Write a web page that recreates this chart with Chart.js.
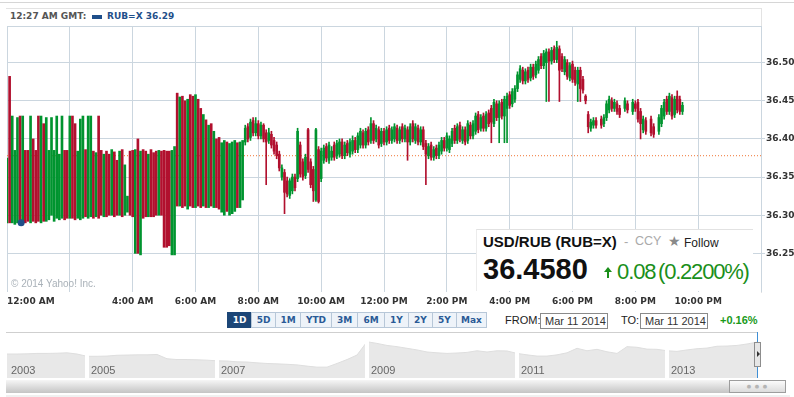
<!DOCTYPE html>
<html>
<head>
<meta charset="utf-8">
<script src="https://cdn.jsdelivr.net/npm/chart.js@4.4.1/dist/chart.umd.min.js"></script>
<style>
body { margin:0; background:#fff; width:794px; height:397px; overflow:hidden; position:relative; font-family:"DejaVu Sans", sans-serif; }
.a { position:absolute; white-space:nowrap; }
#main { position:absolute; left:0; top:0; z-index:1; }
#overview { position:absolute; left:7px; top:336px; z-index:1; }
.btn { position:absolute; top:312px; height:16px; box-sizing:border-box; border:1px solid #b7c7d8; background:#eef3f9; color:#2a5a96; font:bold 9px "DejaVu Sans"; line-height:14px; text-align:center; }
.arial { font-family:"Liberation Sans", Arial, sans-serif; }
</style>
</head>
<body>
<div class="a" style="left:0;top:2px;width:794px;height:1px;background:#d6d6d6"></div>
<div class="a" style="left:6px;top:8px;width:756px;height:285px;box-sizing:border-box;border-top:1px solid #e3e3e3;border-right:1px solid #e3e3e3"></div>
<div class="a" style="left:7px;top:26px;width:754px;height:1px;background:#cbd6df"></div>
<div class="a" style="left:10px;top:11px;font:bold 9px 'DejaVu Sans';color:#555">12:27 AM GMT:</div>
<div class="a" style="left:92px;top:15px;width:10px;height:4px;background:#1f4f8a"></div>
<div class="a" style="left:107px;top:11px;font:bold 9px 'DejaVu Sans';color:#1f4f8a">RUB=X 36.29</div>

<canvas id="main" width="794" height="310"></canvas>

<div class="a arial" style="left:11px;top:278px;font-size:10px;color:#a9b1b8;z-index:2">© 2014 Yahoo! Inc.</div>

<div class="a" style="left:476px;top:229px;width:276px;height:61px;background:#fff;border-top:1px solid #e2e2e2;border-left:1px solid #ececec;z-index:2">
  <div class="a arial" style="left:6px;top:4px;font-size:15px;font-weight:bold;color:#111;line-height:1">USD/RUB (RUB=X)</div>
  <div class="a arial" style="left:147px;top:5px;font-size:13px;color:#aaa;line-height:1">-</div>
  <div class="a arial" style="left:158px;top:5px;font-size:12.5px;color:#aaa;line-height:1">CCY</div>
  <div class="a" style="left:191px;top:4px;font-size:14px;color:#8a8a8a;line-height:1">★</div>
  <div class="a arial" style="left:207px;top:7px;font-size:12px;color:#222;line-height:1">Follow</div>
  <div class="a arial" style="left:6px;top:25px;font-size:29px;font-weight:bold;color:#111;line-height:1">36.4580</div>
  <div class="a" style="left:127px;top:37px;width:0;height:0;border-left:4px solid transparent;border-right:4px solid transparent;border-bottom:5px solid #1a8f1a"></div>
  <div class="a" style="left:130px;top:42px;width:2px;height:6px;background:#1a8f1a"></div>
  <div class="a arial" style="left:140px;top:31px;font-size:22px;letter-spacing:-1.1px;color:#1a8f1a;line-height:1">0.08</div>
  <div class="a arial" style="left:181px;top:31px;font-size:22px;letter-spacing:-1.2px;color:#1a8f1a;line-height:1">(0.2200%)</div>
</div>

<div class="btn" style="left:227px;width:25px;background:#1c4677;border-color:#1c4677;color:#fff">1D</div>
<div class="btn" style="left:251px;width:25px">5D</div>
<div class="btn" style="left:275px;width:26px">1M</div>
<div class="btn" style="left:300px;width:32px">YTD</div>
<div class="btn" style="left:331px;width:27px">3M</div>
<div class="btn" style="left:357px;width:28px">6M</div>
<div class="btn" style="left:384px;width:25px">1Y</div>
<div class="btn" style="left:408px;width:25px">2Y</div>
<div class="btn" style="left:432px;width:25px">5Y</div>
<div class="btn" style="left:456px;width:31px">Max</div>
<div class="a arial" style="left:505px;top:314px;font-size:11px;color:#222">FROM:</div>
<div class="a arial" style="left:540px;top:313px;width:68px;height:16px;box-sizing:border-box;border:1px solid #8a8a8a;font-size:11px;color:#333;padding-left:4px;line-height:14px">Mar 11 2014</div>
<div class="a arial" style="left:621px;top:314px;font-size:11px;color:#222">TO:</div>
<div class="a arial" style="left:640px;top:313px;width:68px;height:16px;box-sizing:border-box;border:1px solid #8a8a8a;font-size:11px;color:#333;padding-left:4px;line-height:14px">Mar 11 2014</div>
<div class="a arial" style="left:720px;top:314px;font-size:11px;font-weight:bold;color:#1a9a1a">+0.16%</div>

<div class="a" style="left:6px;top:332px;width:752px;height:1px;background:#cfcfcf"></div>
<canvas id="overview" width="750" height="42"></canvas>
<div class="a" style="left:757px;top:332px;width:1px;height:46px;background:#3d8fd6;z-index:2"></div>
<div class="a" style="left:754px;top:342px;width:7px;height:25px;box-sizing:border-box;border:1px solid #8d8d8d;background:#e6e6e6;z-index:3"></div>
<div class="a" style="left:757px;top:351px;width:0;height:0;border-top:3px solid transparent;border-bottom:3px solid transparent;border-left:3px solid #333;z-index:4"></div>
<div class="a" style="left:6px;top:380px;width:780px;height:13px;background:linear-gradient(#f6f6f6,#c4c4c4)"></div>
<div class="a" style="left:729px;top:380px;width:57px;height:13px;box-sizing:border-box;border:1px solid #9d9d9d;background:linear-gradient(#fbfbfb,#dcdcdc);font-size:5px;color:#b5b5b5;text-align:center;line-height:11px;letter-spacing:1px">● ● ●</div>
<div class="a" style="left:6px;top:395px;width:784px;height:2px;background:#f0f0f0"></div>

<script>
// 5 minute candles, 00:00 to 21:30 GMT, Mar 11 2014
const stepMinutes = 5;
const opens = [
  36.290,36.482,36.290,36.288,36.290,36.430,36.288,36.385,36.385,36.290,
  36.400,36.385,36.430,36.290,36.420,36.292,36.294,36.300,36.292,36.296,
  36.294,36.296,36.385,36.385,36.296,36.430,36.420,36.296,36.294,36.296,
  36.386,36.296,36.298,36.384,36.298,36.430,36.385,36.298,36.384,36.380,
  36.300,36.383,36.372,36.300,36.386,36.300,36.304,36.384,36.385,36.250,
  36.400,36.248,36.386,36.384,36.298,36.386,36.382,36.384,36.300,36.384,
  36.385,36.384,36.384,36.248,36.248,36.460,36.312,36.456,36.450,36.308,
  36.458,36.456,36.310,36.452,36.440,36.312,36.425,36.310,36.420,36.310,
  36.400,36.402,36.304,36.300,36.396,36.300,36.302,36.305,36.395,36.310,
  36.320,36.396,36.416,36.402,36.424,36.408,36.420,36.404,36.418,36.408,
  36.398,36.406,36.398,36.392,36.380,36.350,36.356,36.345,36.326,36.332,
  36.350,36.348,36.392,36.370,36.352,36.412,36.370,36.360,36.320,36.386,
  36.348,36.372,36.390,36.372,36.376,36.392,36.378,36.380,36.396,36.378,
  36.394,36.380,36.384,36.398,36.386,36.392,36.408,36.392,36.412,36.398,
  36.420,36.400,36.412,36.394,36.410,36.396,36.414,36.398,36.400,36.414,
  36.398,36.416,36.400,36.412,36.396,36.420,36.398,36.414,36.396,36.412,
  36.394,36.378,36.392,36.376,36.388,36.378,36.384,36.398,36.388,36.386,
  36.394,36.414,36.398,36.418,36.398,36.412,36.398,36.418,36.404,36.410,
  36.432,36.414,36.430,36.414,36.434,36.440,36.420,36.446,36.428,36.448,
  36.430,36.440,36.458,36.446,36.452,36.466,36.478,36.490,36.476,36.490,
  36.480,36.494,36.484,36.490,36.508,36.496,36.500,36.514,36.502,36.518,
  36.504,36.518,36.508,36.488,36.500,36.480,36.498,36.490,36.472,36.490,
  36.478,36.456,36.432,36.414,36.418,36.424,null,36.426,36.420,36.428,
  36.438,36.450,36.440,36.446,36.440,null,36.440,36.446,null,36.436,
  36.446,36.448,36.436,36.412,36.424,null,36.426,36.416,null,36.410,
  36.420,36.430,36.452,36.436,36.454,36.432,36.456,36.452,36.436
];
const closes = [
  36.375,36.290,36.430,36.385,36.428,36.290,36.430,36.290,36.292,36.430,
  36.292,36.290,36.292,36.430,36.292,36.428,36.385,36.428,36.385,36.430,
  36.380,36.430,36.294,36.296,36.430,36.296,36.294,36.384,36.426,36.430,
  36.298,36.430,36.430,36.296,36.382,36.296,36.300,36.380,36.298,36.300,
  36.386,36.298,36.300,36.384,36.298,36.366,36.325,36.300,36.298,36.386,
  36.250,36.384,36.296,36.298,36.380,36.298,36.298,36.300,36.385,36.300,
  36.258,36.258,36.260,36.385,36.390,36.312,36.455,36.310,36.312,36.452,
  36.312,36.310,36.458,36.312,36.310,36.432,36.310,36.418,36.312,36.410,
  36.310,36.308,36.395,36.398,36.305,36.394,36.396,36.398,36.310,36.396,
  36.398,36.414,36.400,36.422,36.408,36.420,36.404,36.418,36.400,36.396,
  36.408,36.392,36.384,36.378,36.362,36.362,36.330,36.328,36.345,36.350,
  36.336,36.410,36.354,36.350,36.376,36.360,36.340,36.332,36.412,36.318,
  36.384,36.388,36.375,36.392,36.384,36.376,36.394,36.396,36.378,36.392,
  36.382,36.396,36.398,36.386,36.404,36.410,36.392,36.410,36.396,36.420,
  36.398,36.414,36.392,36.410,36.396,36.412,36.398,36.412,36.416,36.398,
  36.412,36.400,36.414,36.396,36.416,36.400,36.416,36.396,36.412,36.390,
  36.380,36.390,36.376,36.386,36.378,36.392,36.398,36.388,36.404,36.400,
  36.410,36.398,36.416,36.400,36.412,36.396,36.420,36.404,36.420,36.430,
  36.412,36.428,36.414,36.432,36.420,36.422,36.448,36.428,36.446,36.430,
  36.452,36.456,36.444,36.462,36.466,36.484,36.492,36.476,36.488,36.478,
  36.494,36.482,36.498,36.504,36.496,36.512,36.514,36.502,36.516,36.504,
  36.520,36.490,36.492,36.504,36.482,36.496,36.478,36.474,36.490,36.466,
  36.464,36.450,36.416,36.422,36.424,36.418,null,36.418,36.428,36.446,
  36.452,36.440,36.448,36.436,36.432,null,36.450,36.438,null,36.448,
  36.440,36.426,36.420,36.426,36.410,null,36.408,36.406,null,36.428,
  36.440,36.448,36.436,36.456,36.430,36.452,36.438,36.436,36.444
];
// wicks only where the picture shows them (the early bad-tick bars have none)
const highs = [
  null,null,null,null,null,null,null,null,null,null,
  null,null,null,null,null,null,null,null,null,null,
  null,null,null,null,null,null,null,null,null,null,
  null,null,null,null,null,null,null,null,null,null,
  null,null,null,null,null,null,null,null,null,null,
  null,null,null,null,null,null,null,null,null,null,
  null,null,null,null,null,null,null,null,null,null,
  null,null,null,null,null,null,null,null,null,null,
  null,null,null,null,null,null,null,null,null,null,
  null,36.418,36.420,36.426,36.428,36.428,36.424,36.422,36.420,36.412,
  36.414,36.410,36.402,36.396,36.384,36.366,36.360,36.350,36.348,36.354,
  36.354,36.414,36.396,36.374,36.380,36.414,36.374,36.364,36.414,36.390,
  36.388,36.392,36.394,36.396,36.390,36.396,36.398,36.400,36.400,36.396,
  36.398,36.400,36.404,36.402,36.408,36.414,36.412,36.414,36.416,36.428,
  36.424,36.418,36.416,36.414,36.414,36.416,36.418,36.416,36.420,36.418,
  36.416,36.420,36.418,36.416,36.420,36.424,36.420,36.418,36.416,36.416,
  36.398,36.394,36.396,36.390,36.392,36.396,36.402,36.402,36.408,36.404,
  36.414,36.418,36.420,36.422,36.416,36.416,36.424,36.422,36.424,36.434,
  36.436,36.432,36.434,36.436,36.438,36.444,36.452,36.450,36.450,36.452,
  36.456,36.460,36.462,36.466,36.470,36.488,36.496,36.494,36.492,36.494,
  36.498,36.498,36.502,36.508,36.512,36.516,36.518,36.518,36.520,36.522,
  36.528,36.522,36.512,36.508,36.504,36.500,36.502,36.494,36.494,36.494,
  36.482,36.458,36.436,36.426,36.428,36.428,null,36.430,36.432,36.450,
  36.456,36.454,36.452,36.450,36.444,null,36.454,36.450,null,36.452,
  36.450,36.452,36.440,36.430,36.428,null,36.430,36.420,null,36.432,
  36.444,36.452,36.456,36.460,36.458,36.456,36.463,36.456,36.448
];
const lows = [
  null,null,null,null,null,null,null,null,null,null,
  null,null,null,null,null,null,null,null,null,null,
  null,null,null,null,null,null,null,null,null,null,
  null,null,null,null,null,null,null,null,null,null,
  null,null,null,null,null,null,null,null,null,null,
  null,null,null,null,null,null,null,null,null,null,
  null,null,null,null,null,null,null,null,null,null,
  null,null,null,null,null,null,null,null,null,null,
  null,null,null,null,null,null,null,null,null,null,
  null,36.392,36.396,36.398,36.404,36.404,36.400,36.400,36.396,36.340,
  36.394,36.388,36.380,36.374,36.358,36.346,36.302,36.324,36.322,36.328,
  36.332,36.344,36.350,36.346,36.348,36.356,36.336,36.318,36.318,36.316,
  36.344,36.368,36.370,36.368,36.372,36.372,36.374,36.376,36.374,36.374,
  36.378,36.376,36.380,36.382,36.382,36.388,36.388,36.388,36.392,36.394,
  36.394,36.396,36.388,36.390,36.392,36.392,36.394,36.394,36.396,36.394,
  36.394,36.396,36.396,36.372,36.392,36.396,36.394,36.392,36.392,36.386,
  36.340,36.374,36.372,36.372,36.374,36.374,36.380,36.384,36.384,36.382,
  36.390,36.394,36.394,36.396,36.394,36.392,36.394,36.400,36.400,36.406,
  36.408,36.410,36.410,36.410,36.416,36.395,36.416,36.424,36.395,36.426,
  36.395,36.395,36.440,36.442,36.448,36.462,36.474,36.472,36.472,36.474,
  36.476,36.478,36.480,36.486,36.492,36.492,36.449,36.449,36.498,36.500,
  36.500,36.449,36.488,36.484,36.478,36.476,36.474,36.470,36.449,36.449,
  36.460,36.446,36.408,36.410,36.414,36.414,null,36.414,36.416,36.424,
  36.434,36.436,36.436,36.432,36.428,null,36.436,36.434,null,36.432,
  36.436,36.422,36.400,36.408,36.406,null,36.404,36.402,null,36.406,
  36.416,36.426,36.432,36.432,36.426,36.428,36.434,36.432,36.432
];
const prevClose = 36.378;
const cursorHour = 27 / 60;
const cursorValue = 36.29;

const hourTicks = [0, 2, 4, 6, 8, 10, 12, 14, 16, 18, 20, 22, 24];
const timeLabels = ['12:00 AM', '', '4:00 AM', '6:00 AM', '8:00 AM', '10:00 AM', '12:00 PM',
                    '2:00 PM', '4:00 PM', '6:00 PM', '8:00 PM', '10:00 PM', ''];
const priceTicks = [36.25, 36.30, 36.35, 36.40, 36.45, 36.50];

// long-range strip under the chart (USD/RUB, 2003 - Mar 2014)
const overviewYears = [
  2003,2003,2003,2003,2004,2004,2004,2004,2005,2005,
  2005,2005,2005,2005,2005,2006,2006,2006,2006,2006,
  2006,2007,2007,2007,2007,2007,2007,2007,2007,2008,
  2008,2008,2008,2008,2008,2008,2009,2009,2009,2009,
  2009,2009,2009,2009,2010,2010,2010,2010,2010,2010,
  2010,2011,2011,2011,2011,2011,2011,2011,2011,2012,
  2012,2012,2012,2012,2012,2012,2013,2013,2013,2013,
  2013,2013,2013,2014,2014,2014
];
const overviewRates = [
  30.0,30.0,30.1,30.3,30.3,30.4,30.6,30.0,28.9,28.9,
  29.0,29.4,29.5,29.6,29.6,29.8,27.7,27.3,27.3,27.2,
  27.0,26.7,26.6,26.2,26.1,25.7,25.4,25.2,25.0,24.7,
  24.1,23.6,23.6,25.4,27.3,29.5,36.0,35.2,34.2,33.6,
  32.8,32.0,31.0,30.6,30.3,30.5,30.8,31.6,31.0,31.6,
  31.5,30.3,29.6,29.0,29.0,29.6,30.6,32.8,31.6,32.3,
  31.1,30.3,33.6,33.3,32.4,32.3,31.6,31.3,32.0,32.6,
  32.9,33.8,33.9,34.2,34.9,35.8
];

const upColor = '#00942f';
const downColor = '#b1102e';
const gridColor = '#cbd6df';
const axisFont = { family: 'DejaVu Sans', size: 9, weight: 'bold' };

const bodies = [], bodyColors = [], wicks = [], wickColors = [];
opens.forEach(function(o, i) {
  if (o === null) return;
  const c = closes[i];
  const t = i * stepMinutes / 60;
  const col = c >= o ? upColor : downColor;
  bodies.push({ x: t, y: [o, c] });
  bodyColors.push(col);
  if (highs[i] !== null) {
    wicks.push({ x: t, y: [lows[i], highs[i]] });
    wickColors.push(col);
  }
});

new Chart(document.getElementById('main'), {
  type: 'bar',
  data: {
    datasets: [
      { type: 'line', data: [{ x: cursorHour, y: cursorValue }], showLine: false,
        pointRadius: 3.5, pointBackgroundColor: '#1f4f8a', pointBorderWidth: 0, order: 0 },
      { data: bodies, backgroundColor: bodyColors, barThickness: 2, grouped: false,
        borderWidth: 0, order: 1 },
      { data: wicks, backgroundColor: wickColors, barThickness: 1, grouped: false,
        borderWidth: 0, order: 2 },
      { type: 'line', data: [{ x: 0, y: prevClose }, { x: 24, y: prevClose }],
        borderColor: '#f07434', borderWidth: 1, borderDash: [1, 2], pointRadius: 0, order: 3 }
    ]
  },
  options: {
    responsive: false,
    animation: false,
    layout: { padding: { left: 7, top: 26 } },
    plugins: { legend: { display: false }, tooltip: { enabled: false } },
    scales: {
      x: {
        type: 'linear', min: 0, max: 24, offset: false,
        grid: { color: gridColor, offset: false, tickLength: 2 },
        border: { display: false },
        afterBuildTicks: function(s) { s.ticks = hourTicks.map(function(v) { return { value: v }; }); },
        afterFit: function(s) { s.height = 20; },
        ticks: {
          align: 'inner', maxRotation: 0, autoSkip: false, padding: 4,
          color: '#333', font: axisFont,
          callback: function(v) { return timeLabels[hourTicks.indexOf(v)]; }
        }
      },
      y: {
        position: 'right', min: 36.202, max: 36.548, beginAtZero: false,
        grid: { color: gridColor, tickLength: 4 },
        border: { display: true, color: gridColor },
        afterBuildTicks: function(s) { s.ticks = priceTicks.map(function(v) { return { value: v }; }); },
        afterFit: function(s) { s.width = 33; },
        ticks: { padding: 1, color: '#333', font: axisFont,
                 callback: function(v) { return v.toFixed(2); } }
      }
    }
  }
});

function yearStart(i) {
  return i > 0 && overviewYears[i] % 2 === 1 && overviewYears[i] !== overviewYears[i - 1];
}

new Chart(document.getElementById('overview'), {
  type: 'line',
  data: {
    labels: overviewYears,
    datasets: [{
      data: overviewRates, fill: 'start', backgroundColor: '#e8e8e8',
      borderColor: '#dedede', borderWidth: 1, pointRadius: 0, tension: 0
    }]
  },
  options: {
    responsive: false,
    animation: false,
    plugins: { legend: { display: false }, tooltip: { enabled: false } },
    scales: {
      x: {
        offset: false,
        border: { display: false },
        grid: { z: 1, drawTicks: false, lineWidth: 4,
                color: function(ctx) { return yearStart(ctx.index) ? '#ffffff' : 'rgba(0,0,0,0)'; } },
        afterFit: function(s) { s.height = 0; },
        ticks: {
          z: 2, mirror: true, autoSkip: false, maxRotation: 0, align: 'start', padding: 0, labelOffset: 4,
          color: '#666', font: { family: 'Liberation Sans', size: 11 },
          callback: function(v, i) { return (i === 0 || yearStart(i)) ? String(overviewYears[i]) : ''; }
        }
      },
      y: { display: false, min: 18.3, max: 38.8 }
    }
  }
});
</script>
</body>
</html>
